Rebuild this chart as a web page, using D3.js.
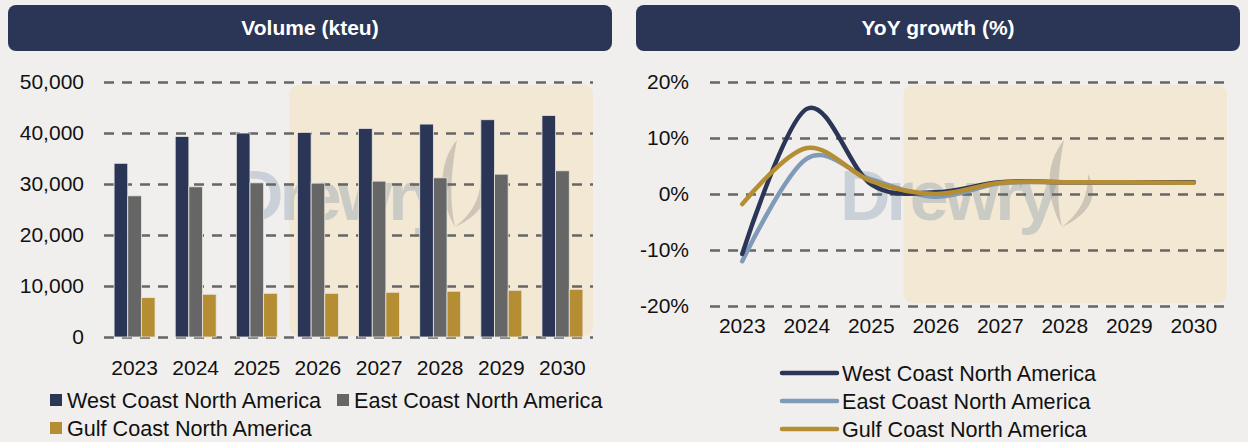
<!DOCTYPE html>
<html>
<head>
<meta charset="utf-8">
<script src="https://cdn.jsdelivr.net/npm/d3@7/dist/d3.min.js"></script>
<style>
  html, body { margin: 0; padding: 0; background: #f0efed; }
  svg { display: block; font-family: "Liberation Sans", Arial, Helvetica, sans-serif; }
</style>
</head>
<body>
<svg id="chart" width="1248" height="442"></svg>
<script>
// ---- data ----
const years = ["2023", "2024", "2025", "2026", "2027", "2028", "2029", "2030"];
const forecastYears = ["2026", "2027", "2028", "2029", "2030"];
const seriesNames = ["West Coast North America", "East Coast North America", "Gulf Coast North America"];

// Volume, kteu
const westVolume = [34060, 39320, 39990, 40100, 40900, 41750, 42600, 43450];
const eastVolume = [27680, 29450, 30230, 30170, 30560, 31210, 31930, 32590];
const gulfVolume = [7720, 8380, 8570, 8570, 8770, 8970, 9160, 9360];

// YoY growth, %
const westGrowth = [-10.7, 15.2, 1.7, 0.3, 2.1, 2.1, 2.1, 2.1];
const eastGrowth = [-12.0, 6.3, 2.6, -0.5, 1.9, 2.1, 2.1, 2.1];
const gulfGrowth = [-1.8, 8.2, 2.3, 0.0, 2.0, 2.1, 2.1, 2.0];

const volumeTicks = [0, 10000, 20000, 30000, 40000, 50000];
const growthTicks = [-20, -10, 0, 10, 20];

const barColors = ["#2b3556", "#666666", "#b58e33"];
const lineColors = ["#2b3556", "#7f9bb8", "#b58e33"];

const svg = d3.select("#chart");
const gridColor = "#666666";
const highlightColor = "#f2e8d4";
const fontSize = 21;
const legendFontSize = 21.6;

// ---- section headers ----
function header(x0, x1, label) {
  svg.append("rect")
    .attr("x", x0).attr("y", 5).attr("width", x1 - x0).attr("height", 46)
    .attr("rx", 8).attr("fill", "#2b3556");
  svg.append("text")
    .attr("x", (x0 + x1) / 2).attr("y", 35)
    .attr("text-anchor", "middle").attr("fill", "#ffffff")
    .attr("font-size", fontSize).attr("font-weight", "bold")
    .text(label);
}
header(8, 612, "Volume (kteu)");
header(636, 1240, "YoY growth (%)");

// ---- watermark ----
function watermark(layer, x, y) {
  const g = layer.append("g").attr("transform", `translate(${x},${y})`).attr("pointer-events", "none");
  g.append("text")
    .attr("x", 0).attr("y", 0)
    .attr("font-size", 70).attr("font-weight", "bold").attr("letter-spacing", -4)
    .attr("fill", "#647da0").attr("fill-opacity", 0.27)
    .text("Drewry");
  const f = g.append("g").attr("transform", "translate(224,-80)")
    .attr("fill", "#787878").attr("fill-opacity", 0.3);
  f.append("path").attr("d", "M0,0 C-20,24 -18,58 -2,87 C-8,60 -6,30 0,0 Z");
  f.append("path").attr("d", "M24,34 C34,52 30,72 -2,87 C20,70 24,52 24,34 Z");
}

// ---- volume bar chart ----
{
  const x = d3.scaleBand().domain(years).range([104, 593]).paddingInner(0.33).paddingOuter(0.165);
  const xs = d3.scaleBand().domain(seriesNames).range([0, x.bandwidth()]);
  const y = d3.scaleLinear().domain([0, 50000]).range([337, 82]);

  // forecast shading
  const hx = x(forecastYears[0]) - x.step() * x.paddingInner() / 2 + 2;
  svg.append("rect")
    .attr("x", hx).attr("y", y(50000) + 3)
    .attr("width", 593 - hx).attr("height", y(0) - y(50000) - 4)
    .attr("rx", 9).attr("fill", highlightColor);

  watermark(svg, 233, 220);

  // grid
  const yAxis = d3.axisLeft(y).tickValues(volumeTicks)
    .tickFormat(d3.format(",")).tickSize(-(593 - 104)).tickPadding(20);
  const ga = svg.append("g").attr("transform", "translate(104,0)").call(yAxis);
  ga.select(".domain").remove();
  ga.selectAll(".tick line")
    .attr("stroke", gridColor).attr("stroke-width", 2.5).attr("stroke-dasharray", "10,8");
  ga.selectAll(".tick text")
    .attr("font-size", fontSize).attr("fill", "#111").attr("font-family", null);

  // bars
  const volumes = [westVolume, eastVolume, gulfVolume];
  seriesNames.forEach((name, si) => {
    svg.append("g").selectAll("rect")
      .data(years.map((yr, i) => ({ yr, v: volumes[si][i] })))
      .join("rect")
      .attr("x", d => x(d.yr) + xs(name))
      .attr("y", d => y(d.v))
      .attr("width", xs.bandwidth())
      .attr("height", d => y(0) - y(d.v))
      .attr("fill", barColors[si])
      .attr("stroke", "#e9e6e0").attr("stroke-width", 0.8);
  });

  // x axis labels
  const xa = svg.append("g").attr("transform", `translate(0,${y(0)})`)
    .call(d3.axisBottom(x).tickSize(0).tickPadding(23));
  xa.select(".domain").remove();
  xa.selectAll(".tick text").attr("font-size", fontSize).attr("fill", "#111").attr("font-family", null);

  // legend
  const legendPos = [[50, 400], [337, 400], [50, 428]];
  seriesNames.forEach((name, si) => {
    const [lx, ly] = legendPos[si];
    svg.append("rect").attr("x", lx).attr("y", ly - 6).attr("width", 12).attr("height", 12)
      .attr("fill", barColors[si]);
    svg.append("text").attr("x", lx + 17).attr("y", ly + 7.5)
      .attr("font-size", legendFontSize).attr("fill", "#111").text(name);
  });
}

// ---- YoY growth line chart ----
{
  const x = d3.scaleBand().domain(years).range([710, 1226]);
  const cx = d => x(d) + x.bandwidth() / 2;
  const y = d3.scaleLinear().domain([-20, 20]).range([306, 82]);

  const hx = x(forecastYears[0]);
  svg.append("rect")
    .attr("x", hx).attr("y", y(20) + 3)
    .attr("width", 1227 - hx).attr("height", y(-20) - y(20) - 6)
    .attr("rx", 9).attr("fill", highlightColor);

  watermark(svg, 840, 220);

  const yAxis = d3.axisLeft(y).tickValues(growthTicks)
    .tickFormat(d => d + "%").tickSize(-(1226 - 710)).tickPadding(21);
  const ga = svg.append("g").attr("transform", "translate(710,0)").call(yAxis);
  ga.select(".domain").remove();
  ga.selectAll(".tick line")
    .attr("stroke", gridColor).attr("stroke-width", 2.5).attr("stroke-dasharray", "10,8");
  ga.selectAll(".tick text")
    .attr("font-size", fontSize).attr("fill", "#111").attr("font-family", null);

  const xa = svg.append("g").attr("transform", `translate(0,${y(-20)})`)
    .call(d3.axisBottom(x).tickSize(0).tickPadding(12));
  xa.select(".domain").remove();
  xa.selectAll(".tick text").attr("font-size", fontSize).attr("fill", "#111").attr("font-family", null);

  const line = d3.line()
    .x((d, i) => cx(years[i]))
    .y(d => y(d))
    .curve(d3.curveCardinal.tension(0));

  const growth = [westGrowth, eastGrowth, gulfGrowth];
  [1, 0, 2].forEach(si => {
    svg.append("path")
      .datum(growth[si])
      .attr("d", line)
      .attr("fill", "none")
      .attr("stroke", lineColors[si])
      .attr("stroke-width", 4.5)
      .attr("stroke-linecap", "round");
  });

  // legend
  const legendY = [373, 401, 429];
  seriesNames.forEach((name, si) => {
    svg.append("line")
      .attr("x1", 782).attr("x2", 837).attr("y1", legendY[si]).attr("y2", legendY[si])
      .attr("stroke", lineColors[si]).attr("stroke-width", 4.5).attr("stroke-linecap", "round");
    svg.append("text").attr("x", 842).attr("y", legendY[si] + 7.5)
      .attr("font-size", legendFontSize).attr("fill", "#111").text(name);
  });
}
</script>
</body>
</html>
